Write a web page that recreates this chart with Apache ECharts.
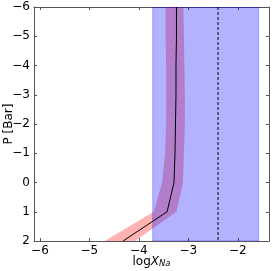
<!DOCTYPE html>
<html><head><meta charset="utf-8">
<script src="https://cdn.jsdelivr.net/npm/echarts@6/dist/echarts.min.js"></script>
<style>html,body{margin:0;padding:0;background:#fff}#c{width:273px;height:271px}</style>
</head><body><div id="c"></div>
<script>
const pressure = [-6, -5, -4, -3, -2, -1, 0, 1, 2];
const median = [-3.24, -3.24, -3.25, -3.25, -3.26, -3.27, -3.29, -3.43, -4.32];
const lower = [-3.46, -3.46, -3.45, -3.45, -3.45, -3.47, -3.53, -3.70, -4.69];
const upper = [-3.10, -3.09, -3.08, -3.07, -3.07, -3.09, -3.11, -3.24, -4.08];
const bandRange = [-3.72, -1.58];
const refValue = -2.40;
const xTicks = [-6, -5, -4, -3, -2];
const yTicks = [-6, -5, -4, -3, -2, -1, 0, 1, 2];
const xRange = [-6.12, -1.37];
const yRange = [-6, 2];

const fmt = v => String(v).replace('-', '\u2212');
const font = 'DejaVu Sans';
const frame = '#555';

const chart = echarts.init(document.getElementById('c'), null, {renderer: 'canvas'});
const baseX = {
  type: 'value', min: xRange[0], max: xRange[1],
  splitLine: {show: false},
  axisLine: {onZero: false, lineStyle: {color: frame, width: 1}},
};
const baseY = {
  type: 'value', min: yRange[0], max: yRange[1], interval: 1, inverse: true,
  splitLine: {show: false},
  axisLine: {onZero: false, lineStyle: {color: frame, width: 1}},
};
chart.setOption({
  animation: false,
  grid: {left: 34, right: 4, top: 7, bottom: 30, containLabel: false, outerBoundsMode: 'none'},
  xAxis: [
    Object.assign({}, baseX, {
      position: 'bottom',
      axisTick: {inside: true, length: 3, lineStyle: {color: frame}, customValues: xTicks},
      axisLabel: {customValues: xTicks, formatter: fmt, color: '#000', fontFamily: font, fontSize: 12, margin: 4},
      name: '{n|log}{i|X}{s|Na}', nameLocation: 'middle', nameGap: 11, nameMoveOverlap: false,
      nameTextStyle: {
        rich: {
          n: {fontFamily: font, fontSize: 12, color: '#000', verticalAlign: 'bottom', lineHeight: 16},
          i: {fontFamily: font, fontSize: 12, fontStyle: 'italic', color: '#000', verticalAlign: 'bottom', lineHeight: 16},
          s: {fontFamily: font, fontSize: 8.5, fontStyle: 'italic', color: '#000', verticalAlign: 'bottom', lineHeight: 11}
        }
      }
    }),
    Object.assign({}, baseX, {
      position: 'top',
      axisTick: {inside: true, length: 3, lineStyle: {color: frame}, customValues: xTicks},
      axisLabel: {show: false}
    })
  ],
  yAxis: [
    Object.assign({}, baseY, {
      position: 'left',
      axisTick: {inside: true, length: 3, lineStyle: {color: frame}},
      axisLabel: {formatter: fmt, color: '#000', fontFamily: font, fontSize: 12, margin: 4},
      name: 'P [Bar]', nameLocation: 'middle', nameGap: 19, nameMoveOverlap: false,
      nameTextStyle: {fontFamily: font, fontSize: 12, color: '#000'}
    }),
    Object.assign({}, baseY, {
      position: 'right',
      axisTick: {inside: true, length: 3, lineStyle: {color: frame}},
      axisLabel: {show: false}
    })
  ],
  series: [
    {
      type: 'custom', z: 1, silent: true, clip: true,
      data: [0],
      renderItem: function (params, api) {
        const pts = [];
        for (let i = 0; i < pressure.length; i++) pts.push(api.coord([lower[i], pressure[i]]));
        for (let i = pressure.length - 1; i >= 0; i--) pts.push(api.coord([upper[i], pressure[i]]));
        return {type: 'polygon', shape: {points: pts}, style: {fill: 'rgba(255,0,0,0.3)', stroke: 'none'}};
      }
    },
    {
      type: 'custom', z: 2, silent: true, clip: true,
      data: [0],
      renderItem: function (params, api) {
        const a = api.coord([bandRange[0], yRange[0]]);
        const b = api.coord([bandRange[1], yRange[1]]);
        return {type: 'rect',
          shape: {x: a[0], y: a[1], width: b[0] - a[0], height: b[1] - a[1]},
          style: {fill: 'rgba(0,0,255,0.3)', stroke: 'rgba(0,0,255,0.3)', lineWidth: 1}};
      }
    },
    {
      type: 'line', z: 3, showSymbol: false, silent: true,
      data: pressure.map((p, i) => [median[i], p]),
      lineStyle: {color: '#000', width: 1}
    },
    {
      type: 'line', z: 3, showSymbol: false, silent: true,
      data: [[refValue, yRange[0]], [refValue, yRange[1]]],
      lineStyle: {color: '#000', width: 1, type: [3, 2]}
    }
  ]
});
</script></body></html>
